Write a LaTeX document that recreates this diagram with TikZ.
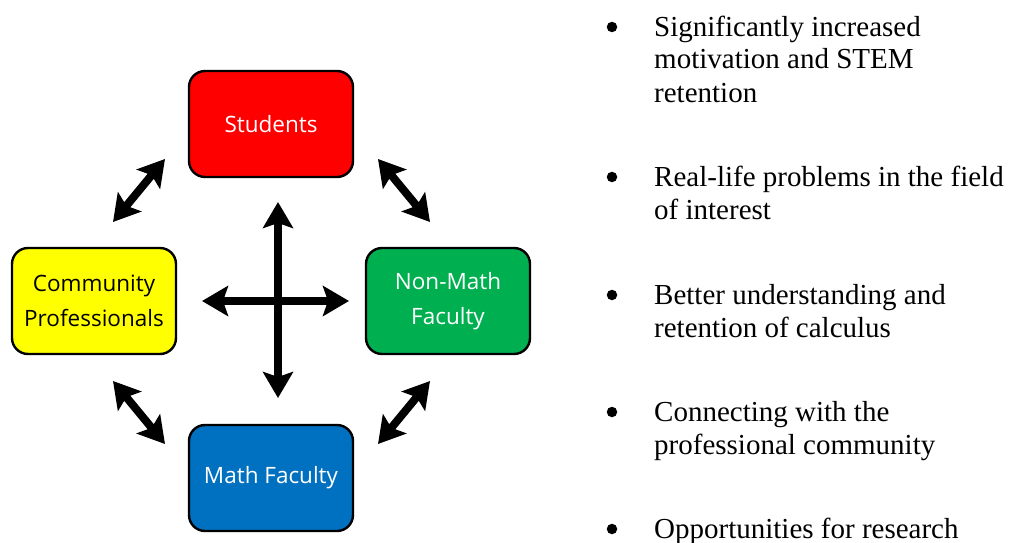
\documentclass[tikz,border=0pt]{standalone}
\usepackage{fontspec}
\setmainfont{Liberation Serif}
\newfontfamily\boxfont{Open Sans}
\usepackage{tikz}
\usetikzlibrary{arrows.meta}

\definecolor{boxred}{RGB}{255,0,0}
\definecolor{boxyellow}{RGB}{255,255,0}
\definecolor{boxgreen}{RGB}{0,176,80}
\definecolor{boxblue}{RGB}{0,112,192}

\begin{document}
\begin{tikzpicture}[x=1pt,y=-1pt,
  box/.style={draw=black,line width=2.4pt,rounded corners=16pt,
    minimum width=164pt,minimum height=106pt,align=center,
    font=\boxfont\fontsize{22.5}{35}\selectfont},
  arr/.style={line width=8pt,{Stealth[length=26pt,width=30pt,inset=5pt]}-{Stealth[length=26pt,width=30pt,inset=5pt]}},
  item/.style={anchor=base west,align=left,inner sep=0pt,
    font=\fontsize{29}{33}\selectfont},
  dot/.style={circle,fill=black,inner sep=0pt,minimum size=10.5pt}]

\useasboundingbox (0,0) rectangle (1009,543);

% Gruppi
\node [box,fill=boxred,text=white] (stud) at (271,124) {Students};
\node [box,fill=boxyellow,text=black] (comm) at (94,301) {Community\\Professionals};
\node [box,fill=boxgreen,text=white] (nonm) at (448,301) {Non-Math\\Faculty};
\node [box,fill=boxblue,text=white] (math) at (271,478) {Math Faculty};

% Frecce diagonali
\coordinate (TLa) at (113,222);
\coordinate (TLb) at (165,159);
\draw [arr] (TLa)--(TLb);
\coordinate (TRa) at (378,159);
\coordinate (TRb) at (430,222);
\draw [arr] (TRa)--(TRb);
\coordinate (BLa) at (113,381);
\coordinate (BLb) at (165,444);
\draw [arr] (BLa)--(BLb);
\coordinate (BRa) at (430,381);
\coordinate (BRb) at (378,444);
\draw [arr] (BRa)--(BRb);

% Croce centrale
\coordinate (Cn) at (278,202);
\coordinate (Cs) at (278,398);
\coordinate (Cw) at (202,301);
\coordinate (Ce) at (349,301);
\draw [arr] (Cn)--(Cs);
\draw [arr] (Cw)--(Ce);

% Elenco (base = ultima riga)
\node [dot] (b1) at (612,27) {};
\node [item] (t1) at (654,102) {Significantly increased\\motivation and STEM\\retention};
\node [dot] (b2) at (612,177) {};
\node [item] (t2) at (654,219) {Real-life problems in the field\\of interest};
\node [dot] (b3) at (612,295) {};
\node [item] (t3) at (654,337) {Better understanding and\\retention of calculus};
\node [dot] (b4) at (612,412) {};
\node [item] (t4) at (654,454) {Connecting with the\\professional community};
\node [dot] (b5) at (612,529) {};
\node [item] (t5) at (654,538) {Opportunities for research};

\end{tikzpicture}
\end{document}
